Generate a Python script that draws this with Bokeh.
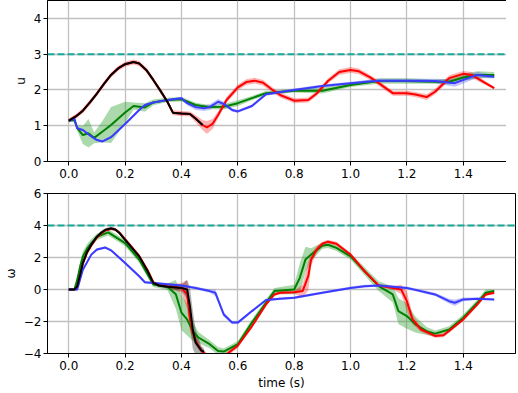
from bokeh.plotting import figure
from bokeh.layouts import column
from bokeh.models import Range1d, Span, FixedTicker, CustomJSTickFormatter
from bokeh.embed import file_html
from bokeh.resources import INLINE

# ---------------- data: top panel (u) ----------------
u_black_t = [0, 0.025, 0.05, 0.075, 0.1, 0.125, 0.15, 0.175, 0.2, 0.23, 0.25, 0.275, 0.3, 0.325,
             0.35, 0.37, 0.4, 0.43, 0.45, 0.475]
u_black = [1.14, 1.26, 1.42, 1.65, 1.9, 2.17, 2.42, 2.6, 2.72, 2.78, 2.74, 2.56, 2.28, 1.98,
           1.67, 1.36, 1.34, 1.33, 1.2, 1.02]
u_black_sd = [0.02, 0.03, 0.03, 0.03, 0.03, 0.03, 0.03, 0.03, 0.03, 0.03, 0.03, 0.03, 0.03, 0.03,
              0.03, 0.03, 0.03, 0.03, 0.04, 0.04]

u_red_t = [0, 0.025, 0.05, 0.075, 0.1, 0.125, 0.15, 0.175, 0.2, 0.23, 0.25, 0.275, 0.3, 0.325,
           0.35, 0.37, 0.4, 0.43, 0.45, 0.475, 0.49, 0.51, 0.53, 0.56, 0.6, 0.63, 0.66, 0.69,
           0.72, 0.75, 0.8, 0.85, 0.88, 0.92, 0.96, 1.0, 1.03, 1.07, 1.1, 1.15, 1.2, 1.23,
           1.27, 1.3, 1.35, 1.4, 1.43, 1.47, 1.51]
u_red = [1.14, 1.26, 1.42, 1.65, 1.9, 2.17, 2.42, 2.6, 2.72, 2.78, 2.74, 2.56, 2.28, 1.98,
         1.67, 1.36, 1.34, 1.33, 1.2, 1.02, 0.95, 1.05, 1.3, 1.72, 2.07, 2.22, 2.26, 2.2,
         2.02, 1.86, 1.70, 1.72, 1.9, 2.25, 2.5, 2.56, 2.52, 2.35, 2.19, 1.91, 1.91, 1.87,
         1.80, 1.95, 2.33, 2.45, 2.42, 2.23, 2.05]
u_red_sd = [0.06, 0.07, 0.07, 0.07, 0.07, 0.07, 0.07, 0.07, 0.07, 0.07, 0.07, 0.07, 0.07, 0.07,
            0.07, 0.07, 0.07, 0.07, 0.1, 0.14, 0.18, 0.14, 0.1, 0.08, 0.08, 0.08, 0.08, 0.08,
            0.07, 0.07, 0.07, 0.07, 0.07, 0.07, 0.08, 0.08, 0.08, 0.07, 0.07, 0.07, 0.07, 0.07,
            0.08, 0.08, 0.08, 0.08, 0.08, 0.06, 0.04]

u_green_t = [0, 0.02, 0.03, 0.05, 0.07, 0.09, 0.12, 0.15, 0.2, 0.23, 0.27, 0.3, 0.35, 0.4,
             0.45, 0.5, 0.55, 0.6, 0.65, 0.7, 0.8, 0.9, 1.0, 1.1, 1.2, 1.3, 1.35, 1.4, 1.45, 1.51]
u_green = [1.14, 1.15, 0.93, 0.74, 0.79, 0.66, 0.84, 1.02, 1.37, 1.55, 1.51, 1.65, 1.72, 1.74,
           1.58, 1.52, 1.53, 1.63, 1.77, 1.91, 1.98, 1.98, 2.14, 2.25, 2.25, 2.23, 2.23, 2.35, 2.42, 2.42]
u_green_sd = [0.0, 0.02, 0.08, 0.25, 0.4, 0.15, 0.3, 0.5, 0.3, 0.1, 0.12, 0.08, 0.06, 0.06,
              0.06, 0.06, 0.08, 0.08, 0.06, 0.06, 0.05, 0.08, 0.06, 0.08, 0.08, 0.06, 0.08, 0.1, 0.1, 0.08]

u_blue_t = [0, 0.02, 0.03, 0.05, 0.08, 0.1, 0.12, 0.15, 0.2, 0.25, 0.27, 0.3, 0.35, 0.4, 0.42,
            0.45, 0.48, 0.5, 0.53, 0.55, 0.58, 0.6, 0.65, 0.7, 0.8, 0.9, 1.0, 1.1, 1.2, 1.3,
            1.37, 1.4, 1.45, 1.51]
u_blue = [1.14, 1.2, 0.93, 0.88, 0.7, 0.6, 0.56, 0.68, 1.05, 1.44, 1.58, 1.65, 1.72, 1.77, 1.63,
          1.52, 1.49, 1.52, 1.67, 1.61, 1.44, 1.40, 1.55, 1.88, 2.0, 2.11, 2.19, 2.26, 2.26, 2.25,
          2.19, 2.28, 2.42, 2.37]
u_blue_sd = [0.03, 0.03, 0.03, 0.03, 0.03, 0.03, 0.03, 0.03, 0.03, 0.03, 0.03, 0.03, 0.03, 0.04, 0.06,
             0.08, 0.08, 0.08, 0.08, 0.06, 0.05, 0.04, 0.04, 0.04, 0.04, 0.04, 0.04, 0.05, 0.05, 0.06,
             0.1, 0.1, 0.08, 0.05]

# ---------------- data: bottom panel (omega) ----------------
w_black_t = [0, 0.02, 0.03, 0.04, 0.05, 0.065, 0.08, 0.1, 0.115, 0.13, 0.15, 0.165, 0.18, 0.2,
             0.25, 0.28, 0.3, 0.32, 0.35, 0.4, 0.42, 0.43, 0.44, 0.45, 0.47, 0.48]
w_black = [0, 0, 0.2, 0.9, 1.66, 2.35, 2.8, 3.3, 3.55, 3.73, 3.82, 3.75, 3.53, 3.1,
           2.07, 1.14, 0.41, 0.25, 0.17, 0.1, 0.0, -1.04, -2.5, -3.3, -3.8, -3.9]
w_black_sd = [0.05, 0.05, 0.1, 0.1, 0.1, 0.1, 0.1, 0.1, 0.1, 0.1, 0.1, 0.1, 0.1, 0.1,
              0.1, 0.1, 0.1, 0.1, 0.1, 0.2, 0.6, 1.2, 1.2, 0.8, 0.3, 0.2]

w_red_t = [0, 0.02, 0.03, 0.04, 0.05, 0.065, 0.08, 0.1, 0.115, 0.13, 0.15, 0.165, 0.18, 0.2,
           0.25, 0.28, 0.3, 0.32, 0.35, 0.4, 0.42, 0.43, 0.44, 0.45, 0.47, 0.5, 0.55, 0.6,
           0.65, 0.7, 0.73, 0.75, 0.8, 0.83, 0.85, 0.86, 0.88, 0.9, 0.92, 0.95, 1.0, 1.05,
           1.1, 1.15, 1.18, 1.2, 1.22, 1.25, 1.3, 1.33, 1.4, 1.45, 1.48, 1.51]
w_red = [0, 0, 0.15, 0.85, 1.6, 2.3, 2.75, 3.25, 3.5, 3.7, 3.8, 3.75, 3.55, 3.15,
         2.1, 1.2, 0.45, 0.28, 0.2, 0.1, -0.3, -1.8, -2.7, -3.2, -3.8, -4.3, -4.2, -3.5,
         -2.3, -0.93, -0.31, -0.2, -0.17, -0.1, 0.83, 1.87, 2.5, 2.86, 2.99, 2.86, 2.18, 1.14,
         0.25, 0.1, 0.0, -0.73, -1.87, -2.5, -2.9, -2.86, -1.87, -0.93, -0.31, -0.2]
w_red_sd = [0.05, 0.05, 0.1, 0.1, 0.1, 0.1, 0.1, 0.1, 0.1, 0.1, 0.1, 0.1, 0.1, 0.1,
            0.1, 0.1, 0.1, 0.1, 0.1, 0.3, 0.9, 0.8, 0.4, 0.3, 0.2, 0.15, 0.15, 0.15,
            0.1, 0.1, 0.1, 0.1, 0.1, 0.4, 0.9, 0.4, 0.2, 0.12, 0.12, 0.12, 0.12, 0.12,
            0.1, 0.1, 0.3, 0.6, 0.3, 0.15, 0.12, 0.12, 0.12, 0.12, 0.1, 0.1]

w_green_t = [0, 0.02, 0.03, 0.04, 0.05, 0.065, 0.08, 0.1, 0.14, 0.2, 0.25, 0.3, 0.35, 0.38,
             0.4, 0.42, 0.44, 0.46, 0.5, 0.53, 0.55, 0.6, 0.65, 0.7, 0.73, 0.8, 0.82, 0.84,
             0.86, 0.9, 0.92, 0.95, 1.0, 1.05, 1.1, 1.15, 1.17, 1.2, 1.23, 1.27, 1.3, 1.35,
             1.4, 1.45, 1.48, 1.51]
w_green = [0, 0, 0.6, 1.4, 2.07, 2.55, 2.9, 3.3, 3.57, 2.9, 1.87, 0.31, 0.17, -0.3,
           -1.45, -1.87, -2.6, -3.0, -3.42, -3.84, -3.88, -3.42, -2.07, -0.83, -0.1, 0.0, 0.73, 1.87,
           2.18, 2.74, 2.8, 2.6, 2.07, 1.14, 0.21, -0.31, -1.35, -1.66, -2.18, -2.6, -2.76, -2.5,
           -1.76, -0.83, -0.2, -0.1]
w_green_sd = [0.05, 0.05, 0.2, 0.3, 0.3, 0.3, 0.25, 0.2, 0.2, 0.2, 0.2, 0.15, 0.2, 0.9,
              1.1, 1.0, 0.6, 0.35, 0.25, 0.25, 0.2, 0.2, 0.2, 0.2, 0.2, 0.3, 0.9, 0.8,
              0.4, 0.2, 0.2, 0.2, 0.2, 0.25, 0.3, 0.5, 0.8, 0.8, 0.5, 0.25, 0.2, 0.2,
              0.2, 0.2, 0.2, 0.1]

w_blue_t = [0, 0.03, 0.05, 0.08, 0.1, 0.13, 0.15, 0.2, 0.25, 0.27, 0.3, 0.4, 0.45, 0.5, 0.52,
            0.55, 0.58, 0.6, 0.65, 0.7, 0.75, 0.8, 0.9, 1.0, 1.05, 1.1, 1.2, 1.3, 1.35, 1.37,
            1.4, 1.45, 1.51]
w_blue = [0, 0, 1.24, 2.18, 2.5, 2.62, 2.45, 1.66, 0.83, 0.45, 0.41, 0.25, 0.1, -0.1, -0.2,
          -1.56, -2.07, -2.07, -1.35, -0.66, -0.58, -0.52, -0.2, 0.1, 0.21, 0.25, 0.1, -0.31, -0.73, -0.83,
          -0.62, -0.58, -0.62]
w_blue_sd = [0.05, 0.08, 0.08, 0.08, 0.08, 0.08, 0.08, 0.08, 0.08, 0.08, 0.08, 0.08, 0.08, 0.1, 0.2,
             0.15, 0.1, 0.08, 0.08, 0.08, 0.08, 0.08, 0.08, 0.08, 0.08, 0.08, 0.08, 0.1, 0.15, 0.2,
             0.12, 0.08, 0.06]

u_limit = 3.0
w_limit = 4.0
x_ticks = [0.0, 0.2, 0.4, 0.6, 0.8, 1.0, 1.2, 1.4]
u_ticks = [0, 1, 2, 3, 4]
w_ticks = [-4, -2, 0, 2, 4, 6]

RED = "#ff0000"
GREEN = "#008000"
BLUE = "#3b3bff"
BLACK = "#000000"
FONT = "DejaVu Sans"


def style(p, yticks, ylabel, xlabel=None):
    p.xaxis.ticker = FixedTicker(ticks=x_ticks)
    p.yaxis.ticker = FixedTicker(ticks=yticks)
    p.xaxis.formatter = CustomJSTickFormatter(code="return tick.toFixed(1);")
    p.yaxis.formatter = CustomJSTickFormatter(
        code="return tick.toFixed(0).replace('-', '\u2212');")
    for ax in (p.xaxis, p.yaxis):
        ax.major_label_text_font = FONT
        ax.major_label_text_font_size = "12px"
        ax.major_label_text_color = "#000000"
        ax.axis_label_text_font = FONT
        ax.axis_label_text_font_size = "12px"
        ax.axis_label_text_font_style = "normal"
        ax.axis_label_text_color = "#000000"
        ax.minor_tick_line_color = None
        ax.major_tick_in = 0
        ax.major_tick_out = 4
        ax.axis_line_color = "#000000"
        ax.major_tick_line_color = "#000000"
    p.yaxis.axis_label = ylabel
    p.yaxis.axis_label_standoff = 3
    if xlabel:
        p.xaxis.axis_label = xlabel
        p.xaxis.axis_label_standoff = 3
    p.xaxis.major_label_standoff = 3
    p.yaxis.major_label_standoff = 2
    p.grid.grid_line_color = "#c0c0c0"
    p.grid.grid_line_width = 1.3
    p.outline_line_color = "#000000"
    p.outline_line_width = 1
    p.background_fill_color = "white"
    p.border_fill_color = "white"


def band(p, t, y, sd, band_color, band_alpha):
    lo = [a - b for a, b in zip(y, sd)]
    hi = [a + b for a, b in zip(y, sd)]
    p.varea(x=t, y1=lo, y2=hi, fill_color=band_color, fill_alpha=band_alpha)


xr = Range1d(-0.0755, 1.5855)

p1 = figure(frame_width=468, frame_height=161, x_range=xr, y_range=Range1d(0, 4.5),
            output_backend="svg", toolbar_location=None,
            min_border_left=30, min_border_right=1, min_border_top=0, min_border_bottom=2)
style(p1, u_ticks, "u")

band(p1, u_green_t, u_green, u_green_sd, "#2ca02c", 0.4)
band(p1, u_red_t, u_red, u_red_sd, "#ff0000", 0.3)
band(p1, u_blue_t, u_blue, u_blue_sd, "#3b3bff", 0.3)
band(p1, u_black_t, u_black, u_black_sd, "#000000", 0.3)
p1.line(u_green_t, u_green, line_color=GREEN, line_width=2)
p1.line(u_red_t, u_red, line_color=RED, line_width=2)
p1.line(u_blue_t, u_blue, line_color=BLUE, line_width=2)
p1.line(u_black_t, u_black, line_color=BLACK, line_width=2)
p1.add_layout(Span(location=u_limit, dimension="width", line_color="#17a99a",
                   line_width=2, line_dash="7 3"))

p2 = figure(frame_width=468, frame_height=160, x_range=xr, y_range=Range1d(-4, 6),
            output_backend="svg", toolbar_location=None,
            min_border_left=30, min_border_right=1, min_border_top=13, min_border_bottom=0)
style(p2, w_ticks, "\u03c9", "time (s)")

band(p2, w_green_t, w_green, w_green_sd, "#2ca02c", 0.4)
band(p2, w_red_t, w_red, w_red_sd, "#ff0000", 0.3)
band(p2, w_blue_t, w_blue, w_blue_sd, "#3b3bff", 0.3)
band(p2, w_black_t, w_black, w_black_sd, "#000000", 0.3)
p2.line(w_green_t, w_green, line_color=GREEN, line_width=2)
p2.line(w_red_t, w_red, line_color=RED, line_width=2)
p2.line(w_blue_t, w_blue, line_color=BLUE, line_width=2)
p2.line(w_black_t, w_black, line_color=BLACK, line_width=2)
p2.add_layout(Span(location=w_limit, dimension="width", line_color="#17a99a",
                   line_width=2, line_dash="7 3"))

layout = column(p1, p2, spacing=0)
open("out.html", "w").write(file_html(layout, INLINE))
